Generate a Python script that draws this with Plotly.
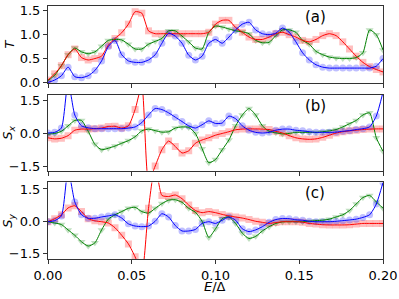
import plotly.graph_objects as go

# shared energy grid, E/Delta from 0 to 0.20 in steps of 0.004
E = [round(0.004 * i, 3) for i in range(51)]

T_red = [0.05, 0.18, 0.35, 0.58, 0.70, 0.52, 0.47, 0.50, 0.55, 0.78, 0.92, 1.04, 1.22, 1.48, 1.45, 1.08, 1.02,
         1.02, 1.02, 1.02, 1.02, 1.02, 1.02, 1.02, 1.05, 1.22, 1.30, 1.30, 1.15, 1.05, 0.95, 0.90, 0.90, 0.95,
         1.02, 1.05, 1.00, 0.95, 0.88, 0.85, 0.90, 0.98, 1.02, 0.98, 0.85, 0.70, 0.55, 0.42, 0.33, 0.27, 0.22]
T_green = [0.04, 0.15, 0.35, 0.58, 0.72, 0.64, 0.60, 0.64, 0.76, 0.88, 0.90, 0.89, 0.80, 0.70, 0.70, 0.80, 0.86,
           0.92, 1.08, 1.08, 0.97, 0.85, 0.72, 0.70, 1.05, 1.18, 1.16, 1.12, 1.08, 1.06, 1.02, 0.88, 0.83, 0.84,
           0.98, 1.10, 1.10, 1.05, 0.88, 0.80, 0.65, 0.58, 0.53, 0.51, 0.50, 0.50, 0.52, 0.62, 1.10, 1.00, 0.68]
T_blue = [0.00, 0.05, 0.14, 0.32, 0.12, 0.10, 0.14, 0.25, 0.45, 0.75, 0.88, 0.58, 0.45, 0.42, 0.42, 0.47, 0.58,
          0.82, 1.03, 0.97, 0.82, 0.57, 0.47, 0.55, 0.82, 0.90, 0.82, 0.95, 1.10, 1.22, 1.26, 1.10, 1.02, 1.00,
          1.03, 1.14, 1.05, 0.85, 0.62, 0.47, 0.37, 0.32, 0.30, 0.30, 0.30, 0.30, 0.30, 0.30, 0.30, 0.34, 0.50]

Sx_red = [-0.20, -0.25, -0.22, -0.10, 0.15, 0.20, 0.20, 0.22, 0.25, 0.32, 0.33, 0.25, 0.35, 1.10, 2.20, -2.20,
          -1.50, -0.75, -0.35, -0.60, -0.90, -0.80, -0.45, -0.30, -0.20, -0.08, 0.00, 0.08, 0.17, 0.20, 0.21,
          0.21, 0.20, 0.18, 0.10, 0.02, -0.10, -0.20, -0.25, -0.27, -0.25, -0.18, -0.08, 0.02, 0.08, 0.12, 0.15,
          0.18, 0.20, 0.21, 0.21]
Sx_green = [-0.03, 0.00, 0.10, 0.35, 0.60, 0.60, 0.10, -0.50, -0.75, -0.68, -0.58, -0.45, -0.33, -0.15, 0.12,
            0.20, 0.13, 0.06, 0.08, 0.25, 0.30, 0.28, 0.00, -0.70, -1.35, -1.20, -0.75, -0.30, 0.35, 0.85, 1.15,
            0.85, 0.35, 0.10, 0.03, -0.02, 0.00, 0.05, 0.05, 0.05, 0.05, 0.08, 0.12, 0.18, 0.30, 0.45, 0.60,
            0.85, 0.95, -0.20, -0.82]
Sx_blue = [0.02, 0.05, 0.25, 2.40, 0.85, 0.35, 0.26, 0.22, 0.22, 0.22, 0.22, 0.22, 0.25, 0.30, 0.50, 0.85, 1.15,
           1.10, 0.95, 0.75, 0.55, 0.35, 0.25, 0.40, 0.58, 0.46, 0.48, 0.80, 0.68, 0.35, 0.15, 0.05, 0.02, 0.05,
           0.15, 0.20, 0.20, 0.15, 0.12, 0.08, 0.05, 0.05, 0.05, 0.06, 0.10, 0.13, 0.18, 0.22, 0.30, 0.80, 1.90]

Sy_red = [-0.02, 0.12, 0.30, 0.62, 0.72, 0.45, 0.12, 0.02, -0.02, -0.08, -0.30, -0.65, -1.05, -1.65, -2.40,
          0.60, 2.60, 1.20, 1.15, 1.22, 1.05, 0.75, 0.50, 0.40, 0.45, 0.40, 0.32, 0.25, 0.20, 0.15, 0.08, 0.00,
          -0.05, -0.10, -0.06, -0.02, -0.02, -0.02, -0.04, -0.10, -0.13, -0.16, -0.17, -0.17, -0.17, -0.16,
          -0.13, -0.10, -0.10, -0.10, -0.10]
Sy_green = [-0.02, -0.08, -0.15, -0.40, -0.65, -0.95, -1.15, -1.00, -0.40, 0.10, 0.30, 0.45, 0.60, 0.65, 0.45,
            0.38, 0.60, 0.82, 0.98, 1.00, 0.88, 0.60, 0.42, 0.00, -0.75, -0.35, 0.12, 0.20, -0.10, -0.55, -0.80,
            -0.70, -0.45, -0.25, -0.10, -0.03, -0.02, -0.02, -0.02, 0.00, 0.03, 0.05, 0.10, 0.20, 0.30, 0.50,
            0.80, 1.10, 1.20, 0.90, 0.61]
Sy_blue = [-0.02, 0.03, 0.25, 2.40, 0.90, 0.30, 0.14, 0.14, 0.20, 0.25, 0.30, 0.15, -0.12, -0.22, -0.25, -0.22,
           0.00, 0.35, 0.20, -0.20, -0.45, -0.45, -0.38, -0.10, -0.02, -0.10, 0.05, 0.20, 0.05, -0.35, -0.48,
           -0.40, -0.25, -0.05, 0.08, 0.13, 0.12, 0.07, 0.05, 0.00, -0.02, -0.02, -0.02, 0.00, 0.03, 0.06, 0.10,
           0.18, 0.30, 0.80, 1.80]

x_ticks = [0.0, 0.05, 0.10, 0.15, 0.20]
x_ticklabels = ["0.00", "0.05", "0.10", "0.15", "0.20"]
T_ticks = [0.0, 0.5, 1.0, 1.5]
T_ticklabels = ["0.0", "0.5", "1.0", "1.5"]
S_ticks = [-1.5, 0.0, 1.5]
S_ticklabels = ["\u22121.5", "0.0", "1.5"]
panel_labels = ["(a)", "(b)", "(c)"]
y_titles = ["<i>T</i>", "<i>S</i><sub><i>x</i></sub>", "<i>S</i><sub><i>y</i></sub>"]

colors = {"red": "#ff0000", "green": "#008000", "blue": "#0000ff"}
symbols = {"red": "square", "green": "triangle-down", "blue": "circle"}

panels = [
    {"red": T_red, "green": T_green, "blue": T_blue},
    {"red": Sx_red, "green": Sx_green, "blue": Sx_blue},
    {"red": Sy_red, "green": Sy_green, "blue": Sy_blue},
]

fig = go.Figure()
for k, pdata in enumerate(panels):
    xa = "x" if k == 0 else f"x{k+1}"
    ya = "y" if k == 0 else f"y{k+1}"
    for c in ["green", "red", "blue"]:
        fig.add_trace(go.Scatter(x=E, y=pdata[c], mode="markers", xaxis=xa, yaxis=ya,
                                 marker=dict(symbol=symbols[c], size=7, color=colors[c], opacity=0.25,
                                             line=dict(width=0)),
                                 showlegend=False, hoverinfo="skip"))
    for c in ["green", "red", "blue"]:
        fig.add_trace(go.Scatter(x=E, y=pdata[c], mode="lines", xaxis=xa, yaxis=ya,
                                 line=dict(color=colors[c], width=1, shape="spline", smoothing=0.6),
                                 showlegend=False, hoverinfo="skip"))

H = 253.3
domains = [[(259.3 - 83) / H, 1.0], [(259.3 - 171) / H, (259.3 - 94.7) / H], [0.0, (259.3 - 182.7) / H]]
yranges = [[-0.01, 1.6], [-1.72, 1.79], [-1.75, 1.8]]

axis_common = dict(showline=True, linecolor="#333333", linewidth=1, mirror=True, ticks="outside",
                   ticklen=4, tickwidth=1, tickcolor="#333333", showgrid=False, zeroline=False,
                   automargin=False,
                   tickfont=dict(family="DejaVu Sans", size=13, color="black"))

layout = dict(width=399, height=299, margin=dict(l=48, r=16, t=6, b=40, autoexpand=False),
              paper_bgcolor="white", plot_bgcolor="white", showlegend=False,
              font=dict(family="DejaVu Sans", size=13, color="black"))
for k in range(3):
    xkey = "xaxis" if k == 0 else f"xaxis{k+1}"
    ykey = "yaxis" if k == 0 else f"yaxis{k+1}"
    ya = "y" if k == 0 else f"y{k+1}"
    xa = "x" if k == 0 else f"x{k+1}"
    layout[xkey] = dict(axis_common, range=[0, 0.2], anchor=ya, domain=[0, 1],
                        tickvals=x_ticks, ticktext=x_ticklabels, showticklabels=(k == 2))
    ticks = T_ticks if k == 0 else S_ticks
    labels = T_ticklabels if k == 0 else S_ticklabels
    layout[ykey] = dict(axis_common, range=yranges[k], anchor=xa, domain=domains[k],
                        tickvals=ticks, ticktext=labels)
fig.update_layout(**layout)

label_y = [0.9546, 0.605, 0.2617]
for k in range(3):
    fig.add_annotation(text=panel_labels[k], xref="paper", yref="paper", x=(315 - 48) / 335, y=label_y[k],
                       showarrow=False, font=dict(family="DejaVu Sans", size=15, color="black"),
                       xanchor="center", yanchor="middle")
    ymid = sum(domains[k]) / 2
    fig.add_annotation(text=y_titles[k], xref="paper", yref="paper", x=(9 - 48) / 335, y=ymid,
                       showarrow=False, textangle=-90, font=dict(family="DejaVu Sans", size=13, color="black"),
                       xanchor="center", yanchor="middle")
fig.add_annotation(text="<i>E</i>/\u0394", xref="paper", yref="paper", x=(215 - 48) / 335,
                   y=-(287 - 259) / H, showarrow=False, font=dict(family="DejaVu Sans", size=13, color="black"),
                   xanchor="center", yanchor="middle")

fig.write_html("out.html", config={"responsive": False, "displayModeBar": False},
               post_script="document.body.style.margin='0';document.body.style.overflow='hidden';")
